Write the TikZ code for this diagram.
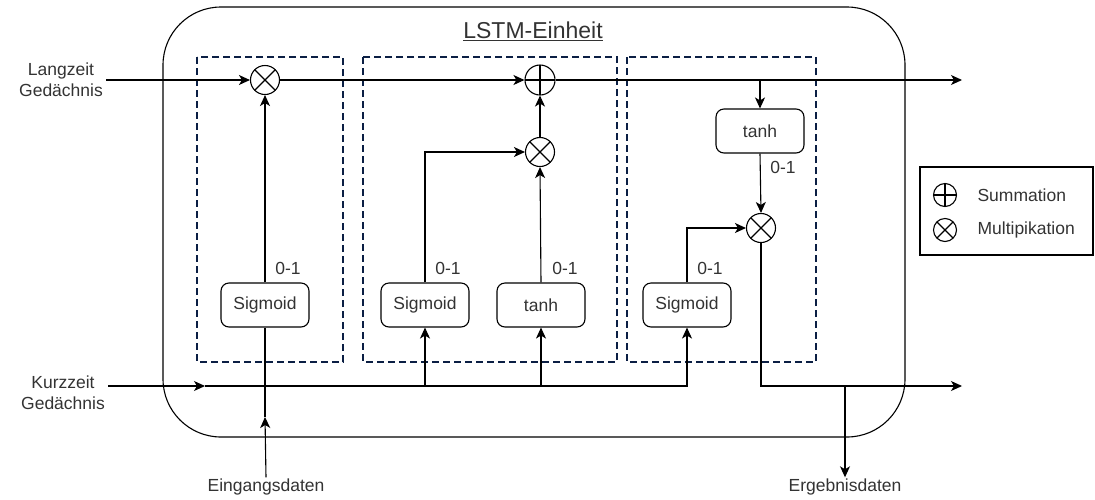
\documentclass[tikz,border=0pt]{standalone}
\usepackage{fontspec}
\setmainfont{Liberation Sans}
\usetikzlibrary{arrows.meta}
\definecolor{gateblue}{HTML}{0B1F44}
\definecolor{txt}{HTML}{333333}
\begin{document}
\begin{tikzpicture}[x=1pt,y=-1pt,
  line width=1.1pt,
  every node/.style={text=txt, font=\fontsize{17.5pt}{21pt}\selectfont},
  arr/.style={-{Stealth[length=11pt,width=10pt,inset=3pt]}},
  gatebox/.style={draw=gateblue, line width=2.4pt, dash pattern=on 7pt off 4pt},
  fnbox/.style={draw, rounded corners=8pt, minimum width=88pt, minimum height=44pt, inner sep=0pt},
  mulop/.style={circle, draw, minimum size=#1, inner sep=0pt,
    path picture={\draw (path picture bounding box.north west) -- (path picture bounding box.south east)
                        (path picture bounding box.north east) -- (path picture bounding box.south west);}},
  addop/.style={circle, draw, minimum size=#1, inner sep=0pt,
    path picture={\draw (path picture bounding box.north) -- (path picture bounding box.south)
                        (path picture bounding box.west) -- (path picture bounding box.east);}},
  iolabel/.style={align=center, inner sep=3pt},
  rangelabel/.style={inner sep=0pt},
]
\useasboundingbox (0,0) rectangle (1095,499);

% outer cell
\node[draw, rounded corners=58pt, minimum width=742pt, minimum height=430pt, inner sep=0pt] (cell) at (534,222) {};
\node (title) at (533,31) {\fontsize{23pt}{26pt}\selectfont\underline{LSTM-Einheit}};

% gate regions
\draw[gatebox] (197,57) rectangle (343,362);
\draw[gatebox] (363,57) rectangle (617,362);
\draw[gatebox] (627,57) rectangle (816,362);

% inputs and outputs
\node[iolabel] (lang) at (61,80) {Langzeit\\Gedächnis};
\node[iolabel] (kurz) at (63,393) {Kurzzeit\\Gedächnis};
\node[inner sep=1pt] (eing) at (266,487) {Eingangsdaten};
\node[inner sep=1pt] (ergeb) at (845,487) {Ergebnisdaten};
\coordinate (ltout) at (962,80);
\coordinate (stout) at (962,386);
\coordinate (ktip) at (205,386);
\coordinate (etip) at (265,417);

% operators
\node[mulop=29pt] (m1) at (265,80) {};
\node[addop=30pt] (add) at (540,80) {};
\node[mulop=29pt] (m2) at (540,152) {};
\node[mulop=29pt] (m3) at (761,228) {};

% activation blocks
\node[fnbox] (sig1) at (265,305) {Sigmoid};
\node[fnbox] (sig2) at (425,305) {Sigmoid};
\node[fnbox] (tanh2) at (541,305) {tanh};
\node[fnbox] (sig3) at (687,305) {Sigmoid};
\node[fnbox] (tanh3) at (760,131) {tanh};

% value ranges
\node[rangelabel] (r1) at (288,268) {0-1};
\node[rangelabel] (r2) at (448,268) {0-1};
\node[rangelabel] (r3) at (565,268) {0-1};
\node[rangelabel] (r4) at (710,268) {0-1};
\node[rangelabel] (r5) at (783,167) {0-1};

% long-term path
\draw[arr] (lang.east |- m1) -- (m1);
\draw[arr] (m1) -- (add);
\draw[arr] (add) -- (ltout);
\draw[arr] (sig1.north) -- (m1.south);
\draw[arr] (m2.north) -- (add.south);
\draw[arr] (sig2.north) |- (m2.west);
\draw[arr] (tanh2.north) -- (m2.south);
\draw[arr] (tanh3.north |- add) -- (tanh3.north);
\draw[arr] (tanh3.south) -- (m3.north);
\draw[arr] (sig3.north) |- (m3.west);

% short-term path and input
\draw[arr] (kurz.east |- ktip) -- (ktip);
\draw[arr] (ktip) -| (sig3.south);
\draw[arr] (sig2.south |- ktip) -- (sig2.south);
\draw[arr] (tanh2.south |- ktip) -- (tanh2.south);
\draw[arr] (eing.north) -- (etip);
\draw (etip) -- (sig1.south);

% output
\draw[arr] (m3.south) |- (stout);
\draw[arr] (ergeb.north |- stout) -- (ergeb.north);

% legend
\node[draw, minimum width=173pt, minimum height=88pt, inner sep=0pt] (legend) at (1006.5,211) {};
\node[addop=23pt] (ladd) at (945,195) {};
\node[mulop=23pt] (lmul) at (945,230) {};
\node[anchor=west, inner sep=0pt] (tsum) at (977,195) {Summation};
\node[anchor=west, inner sep=0pt] (tmul) at (977,230) {Multipikation};
\end{tikzpicture}
\end{document}
